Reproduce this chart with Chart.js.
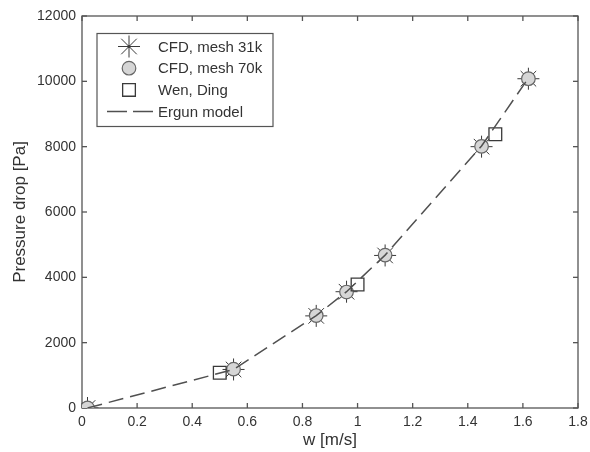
<!DOCTYPE html>
<html>
<head>
<meta charset="utf-8">
<script src="https://cdn.jsdelivr.net/npm/chart.js@4/dist/chart.umd.min.js"></script>
<style>
html,body{margin:0;padding:0;background:#fff;}
#wrap{width:590px;height:452px;position:relative;}
</style>
</head>
<body>
<div id="wrap"><canvas id="c"></canvas></div>
<script>
// ---- data ----
const seriesLabels = ['CFD, mesh 31k', 'CFD, mesh 70k', 'Wen, Ding', 'Ergun model'];
const cfd31kW  = [0.02, 0.55, 0.85, 0.96, 1.10, 1.45, 1.62];
const cfd31kDP = [0, 1180, 2820, 3560, 4670, 8000, 10080];
const cfd70kW  = [0.02, 0.55, 0.85, 0.96, 1.10, 1.45, 1.62];
const cfd70kDP = [0, 1190, 2830, 3550, 4680, 8010, 10080];
const wenDingW  = [0.50, 1.00, 1.50];
const wenDingDP = [1080, 3780, 8380];
const ergunW  = [0.02, 0.55, 0.85, 0.96, 1.10, 1.45, 1.62];
const ergunDP = [0, 1180, 2830, 3560, 4680, 8020, 10100];
const xTicks = [0, 0.2, 0.4, 0.6, 0.8, 1, 1.2, 1.4, 1.6, 1.8];
const yTicks = [0, 2000, 4000, 6000, 8000, 10000, 12000];
const xTitle = 'w [m/s]';
const yTitle = 'Pressure drop [Pa]';

const pts = (xs, ys) => xs.map((v, i) => ({x: v, y: ys[i]}));
const FONT = '"Liberation Sans", Arial, Helvetica, sans-serif';
const AXIS = '#555555';
const TXT = '#333333';

const ds = [
  {label: seriesLabels[0], data: pts(cfd31kW, cfd31kDP), showLine: false,
   pointStyle: 'star', pointRadius: 11, borderColor: '#3a3a3a', backgroundColor: '#3a3a3a',
   pointBorderWidth: 1, order: 4},
  {label: seriesLabels[1], data: pts(cfd70kW, cfd70kDP), showLine: false,
   pointStyle: 'circle', pointRadius: 6.8, borderColor: '#666666', backgroundColor: '#d6d6d6',
   pointBorderWidth: 1.2, order: 3},
  {label: seriesLabels[2], data: pts(wenDingW, wenDingDP), showLine: false,
   pointStyle: 'rect', pointRadius: 9, borderColor: '#3a3a3a', backgroundColor: 'rgba(0,0,0,0)',
   pointBorderWidth: 1.3, order: 2},
  {label: seriesLabels[3], data: pts(ergunW, ergunDP), showLine: true,
   pointRadius: 0, borderColor: '#505050', borderWidth: 1.5, borderDash: [15, 7],
   tension: 0, fill: false, order: 1}
];

function strokeLine(ctx, x1, y1, x2, y2) {
  ctx.beginPath(); ctx.moveTo(x1, y1); ctx.lineTo(x2, y2); ctx.stroke();
}

function drawMarker(ctx, d, x, y) {
  ctx.save();
  ctx.strokeStyle = d.borderColor;
  ctx.fillStyle = d.backgroundColor;
  ctx.lineWidth = d.pointBorderWidth || 1;
  const r = d.pointRadius;
  if (d.pointStyle === 'star') {
    const k = r * Math.SQRT1_2;
    strokeLine(ctx, x - r, y, x + r, y);
    strokeLine(ctx, x, y - r, x, y + r);
    strokeLine(ctx, x - k, y - k, x + k, y + k);
    strokeLine(ctx, x - k, y + k, x + k, y - k);
    ctx.beginPath(); ctx.arc(x, y, 1.5, 0, Math.PI * 2); ctx.fill();
  } else if (d.pointStyle === 'circle') {
    ctx.beginPath(); ctx.arc(x, y, r, 0, Math.PI * 2); ctx.fill(); ctx.stroke();
  } else if (d.pointStyle === 'rect') {
    const s = r * Math.SQRT1_2;
    ctx.beginPath(); ctx.rect(x - s, y - s, 2 * s, 2 * s); ctx.fill(); ctx.stroke();
  }
  ctx.restore();
}

const matlabAxes = {
  id: 'matlabAxes',
  beforeDatasetsDraw(chart) {
    const {ctx, chartArea: {left, right, top, bottom}, scales: {x, y}} = chart;
    ctx.save();
    ctx.strokeStyle = AXIS;
    ctx.lineWidth = 1.3;
    ctx.setLineDash([]);
    ctx.strokeRect(left, top, right - left, bottom - top);
    const tl = 5;
    x.ticks.forEach(t => {
      const px = x.getPixelForValue(t.value);
      strokeLine(ctx, px, bottom, px, bottom - tl);
      strokeLine(ctx, px, top, px, top + tl);
    });
    y.ticks.forEach(t => {
      const py = y.getPixelForValue(t.value);
      strokeLine(ctx, left, py, left + tl, py);
      strokeLine(ctx, right, py, right - tl, py);
    });
    ctx.restore();
  }
};

const boxLegend = {
  id: 'boxLegend',
  afterDraw(chart) {
    const {ctx, chartArea: {left, top}} = chart;
    const bx = left + 15, by = top + 17.5, bw = 176, bh = 93;
    ctx.save();
    ctx.fillStyle = '#ffffff';
    ctx.fillRect(bx, by, bw, bh);
    ctx.strokeStyle = AXIS;
    ctx.lineWidth = 1.2;
    ctx.strokeRect(bx, by, bw, bh);
    ctx.font = '15px ' + FONT;
    ctx.textBaseline = 'middle';
    ctx.textAlign = 'left';
    chart.data.datasets.forEach((d, i) => {
      const cy = by + 13 + i * 21.7;
      const mx = bx + 32;
      if (d.showLine) {
        ctx.save();
        ctx.strokeStyle = d.borderColor;
        ctx.lineWidth = d.borderWidth;
        ctx.setLineDash([20, 6]);
        strokeLine(ctx, bx + 10, cy, bx + 56, cy);
        ctx.restore();
      } else {
        drawMarker(ctx, d, mx, cy);
      }
      ctx.fillStyle = TXT;
      ctx.fillText(d.label, bx + 61, cy + 1);
    });
    ctx.restore();
  }
};

new Chart(document.getElementById('c'), {
  type: 'scatter',
  data: {datasets: ds},
  options: {
    responsive: true,
    maintainAspectRatio: false,
    animation: false,
    devicePixelRatio: 1,
    layout: {padding: {top: 16, right: 10, left: 0, bottom: 0}},
    plugins: {legend: {display: false}, tooltip: {enabled: false}},
    scales: {
      x: {
        type: 'linear', min: 0, max: 1.8,
        afterBuildTicks: s => { s.ticks = xTicks.map(v => ({value: v})); },
        afterFit: s => { s.height = 44; s.paddingLeft = 0; s.paddingRight = 0; },
        grid: {display: false, drawTicks: false},
        border: {display: false},
        ticks: {color: TXT, font: {family: FONT, size: 14}, padding: 6, maxRotation: 0,
                callback: v => String(v)},
        title: {display: true, text: xTitle, color: TXT, font: {family: FONT, size: 17},
                padding: {top: 0, bottom: 1}}
      },
      y: {
        type: 'linear', min: 0, max: 12000,
        afterBuildTicks: s => { s.ticks = yTicks.map(v => ({value: v})); },
        afterFit: s => { s.width = 82; s.paddingTop = 0; s.paddingBottom = 0; },
        grid: {display: false, drawTicks: false},
        border: {display: false},
        ticks: {color: TXT, font: {family: FONT, size: 14}, padding: 6,
                callback: v => String(v)},
        title: {display: true, text: yTitle, color: TXT, font: {family: FONT, size: 17},
                padding: {top: 10, bottom: 0}}
      }
    }
  },
  plugins: [matlabAxes, boxLegend]
});
</script>
</body>
</html>
